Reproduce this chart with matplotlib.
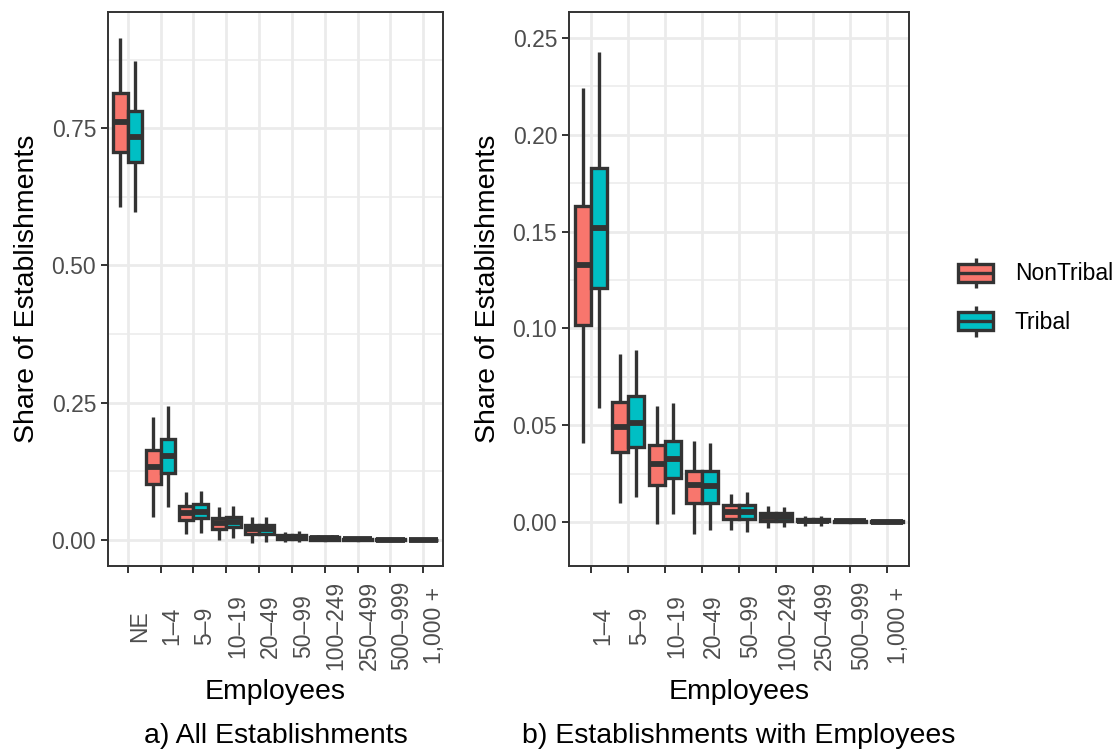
# coding = utf-8
import matplotlib
matplotlib.use('Agg')
from matplotlib import pyplot as plt
from matplotlib.legend_handler import HandlerBase
from matplotlib.patches import Rectangle, PathPatch
from matplotlib.lines import Line2D
from matplotlib.ticker import MultipleLocator, FormatStrFormatter

plt.rcParams['font.family'] = ['Liberation Sans', 'DejaVu Sans']

# 数据（从图上读出来的估计值）
groups = ['NonTribal', 'Tribal']
colors = ['#F8766D', '#00BFC4']
sizes = ['1–4', '5–9', '10–19', '20–49', '50–99',
         '100–249', '250–499', '500–999', '1,000 +']

# NE = no employees, only in panel a ; order: whislo, q1, med, q3, whishi
ne_nontribal = [0.606, 0.706, 0.761, 0.814, 0.914]
ne_tribal = [0.597, 0.688, 0.735, 0.781, 0.872]

nt_whislo = [0.041, 0.010, -0.001, -0.006, -0.004, -0.003, -0.002, -0.0005, -0.0003]
nt_q1 = [0.102, 0.036, 0.019, 0.010, 0.0016, 0.0003, 0.0003, 0.0001, 0.0000]
nt_med = [0.133, 0.049, 0.030, 0.019, 0.0050, 0.0025, 0.0008, 0.0003, 0.0001]
nt_q3 = [0.163, 0.062, 0.040, 0.0265, 0.0087, 0.0047, 0.0016, 0.0006, 0.0003]
nt_whishi = [0.224, 0.087, 0.060, 0.042, 0.0145, 0.0083, 0.0030, 0.0012, 0.0006]

tr_whislo = [0.059, 0.013, 0.004, -0.004, -0.005, -0.0026, -0.002, -0.0005, -0.0003]
tr_q1 = [0.121, 0.039, 0.023, 0.010, 0.0015, 0.0003, 0.0003, 0.0001, 0.0000]
tr_med = [0.152, 0.051, 0.0325, 0.0186, 0.0050, 0.0024, 0.0008, 0.0003, 0.0001]
tr_q3 = [0.183, 0.065, 0.042, 0.0263, 0.0088, 0.0045, 0.0016, 0.0006, 0.0003]
tr_whishi = [0.243, 0.089, 0.0615, 0.041, 0.0155, 0.0077, 0.0030, 0.0012, 0.0006]

edge = '#333333'
lw = 2.4


def make_stats(lo, q1, med, q3, hi):
    return [dict(whislo=a, q1=b, med=c, q3=d, whishi=e, fliers=[])
            for a, b, c, d, e in zip(lo, q1, med, q3, hi)]


nt_stats = make_stats(nt_whislo, nt_q1, nt_med, nt_q3, nt_whishi)
tr_stats = make_stats(tr_whislo, tr_q1, tr_med, tr_q3, tr_whishi)
ne_stats = make_stats(*[[a, b] for a, b in zip(ne_nontribal, ne_tribal)])


class BoxKey(HandlerBase):
    # 图例里画一个小箱线图
    def create_artists(self, legend, orig_handle, xdescent, ydescent,
                       width, height, fontsize, trans):
        x0, y0 = -xdescent, -ydescent
        cx, cy = x0 + width / 2, y0 + height / 2
        bh = height * 0.6
        rect = Rectangle((x0, cy - bh / 2), width, bh,
                         facecolor=orig_handle.get_facecolor(),
                         edgecolor=edge, linewidth=lw, transform=trans)
        med = Line2D([x0, x0 + width], [cy, cy], color=edge, linewidth=lw,
                     solid_capstyle='butt', transform=trans)
        w1 = Line2D([cx, cx], [cy + bh / 2, y0 + height], color=edge,
                    linewidth=lw, solid_capstyle='butt', transform=trans)
        w2 = Line2D([cx, cx], [y0, cy - bh / 2], color=edge,
                    linewidth=lw, solid_capstyle='butt', transform=trans)
        return [w1, w2, rect, med]


def draw_panel(ax, labels, stats_list, ylim, ystep):
    n = len(labels)
    handles = []
    for stats, c, off in zip(stats_list, colors, [-0.22, 0.22]):
        bp = ax.bxp(stats, positions=[i + off for i in range(n)], widths=0.44,
                    patch_artist=True, showfliers=False, showcaps=False,
                    manage_ticks=False,
                    boxprops=dict(facecolor=c, edgecolor=edge, linewidth=lw),
                    medianprops=dict(color=edge, linewidth=4.2, solid_capstyle='butt'),
                    whiskerprops=dict(color=edge, linewidth=lw, solid_capstyle='butt'))
        handles.append(bp['boxes'][0])
    ax.set_xlim(-0.6, n - 1 + 0.6)
    ax.set_ylim(*ylim)
    ax.set_xticks(range(n))
    ax.set_xticklabels(labels, rotation=90, ha='left', va='center')
    ax.yaxis.set_major_locator(MultipleLocator(ystep))
    ax.yaxis.set_minor_locator(MultipleLocator(ystep / 2))
    ax.yaxis.set_major_formatter(FormatStrFormatter('%.2f'))
    ax.set_axisbelow(True)
    ax.grid(which='major', color='#EBEBEB', linewidth=2.0)
    ax.yaxis.grid(which='minor', color='#EBEBEB', linewidth=1.1)
    for s in ax.spines.values():
        s.set_color(edge)
        s.set_linewidth(1.4)
    ax.tick_params(which='major', length=5, width=1.4, color=edge,
                   labelcolor='#4D4D4D', labelsize=16.5)
    ax.tick_params(axis='x', pad=38)
    ax.tick_params(which='minor', length=0)
    ax.set_xlabel('Employees', fontsize=20.5, labelpad=6)
    ax.set_ylabel('Share of Establishments', fontsize=20.5, labelpad=8)
    return handles


fig = plt.figure(figsize=(11.18, 7.52), dpi=100)
ax1 = fig.add_axes([0.0966, 0.2473, 0.2996, 0.7367])
ax2 = fig.add_axes([0.5089, 0.2473, 0.3041, 0.7367])

draw_panel(ax1, ['NE'] + sizes,
           [[ne_stats[0]] + nt_stats, [ne_stats[1]] + tr_stats],
           (-0.048, 0.962), 0.25)
handles = draw_panel(ax2, sizes, [nt_stats, tr_stats], (-0.0227, 0.2634), 0.05)

fig.text(0.2464, 0.0213, 'a) All Establishments', ha='center', va='center', fontsize=20.5)
fig.text(0.661, 0.0213, 'b) Establishments with Employees', ha='center', va='center', fontsize=20.5)

fig.legend(handles, groups, handler_map={PathPatch: BoxKey()},
           loc='center left', bbox_to_anchor=(0.857, 0.605), frameon=False,
           fontsize=16.5, borderpad=0, borderaxespad=0, handlelength=1.53,
           handleheight=1.7, labelspacing=0.75, handletextpad=0.95)

plt.savefig('out.png', dpi=100)
